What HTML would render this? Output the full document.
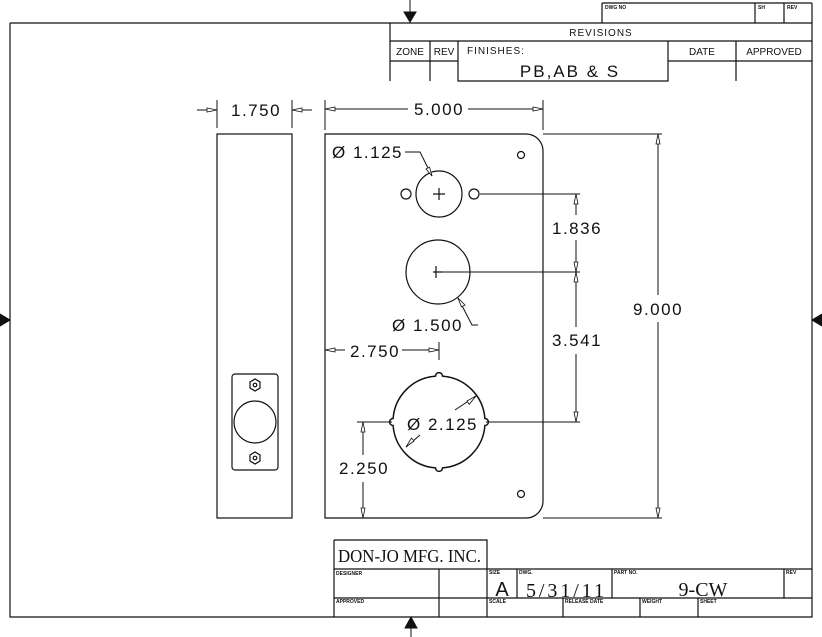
<!DOCTYPE html>
<html><head><style>
html,body{margin:0;padding:0;background:#fff;}
svg{display:block;}
text{font-family:"Liberation Sans",sans-serif;fill:#111;}
.d{font-size:17px;letter-spacing:1.5px;}
.s{font-size:5px;font-weight:bold;}
.ah{fill:#fff;stroke:#111;stroke-width:0.8;}
</style></head><body>
<svg width="822" height="637" viewBox="0 0 822 637" xmlns="http://www.w3.org/2000/svg">
<g stroke="#111" fill="none" stroke-width="1.2">
<path d="M10,23 H812 M10,23 V617 H812 V3 M602,3 H812 M602,3 V23 M755,3 V23 M784,3 V23"/>
<path d="M390,23 V81 M390,41 H812 M390,61 H458 M668,61 H812 M430,41 V81 M458,41 V81 H668 V41 M736,41 V81"/>
<path d="M334,540 H487 V569 M334,540 V617 M334,569 H487 M334,598 H812 M439,569 V617 M487,569 V617 M487,569 H812 M517,569 V598 M612,569 V598 M784,569 V598 M563,598 V617 M640,598 V617 M698,598 V617"/>
<rect x="217" y="134" width="75" height="384"/>
<rect x="232" y="374" width="46" height="96" rx="3"/>
<circle cx="255" cy="422" r="21"/>
<path d="M250,382 l5,-3 5,3 v6 l-5,3 -5,-3 Z"/><circle cx="255" cy="385" r="1.8"/>
<path d="M250,455 l5,-3 5,3 v6 l-5,3 -5,-3 Z"/><circle cx="255" cy="458" r="1.8"/>
<path d="M325,134 H526 A17,17 0 0 1 543,151 V501 A17,17 0 0 1 526,518 H325 Z"/>
<circle cx="439" cy="194" r="23"/><circle cx="406" cy="194" r="5"/><circle cx="474" cy="194" r="5"/>
<circle cx="521" cy="155" r="3.5"/><circle cx="521" cy="494" r="3.5"/>
<path d="M433,194 H445 M439,188 V200"/>
<circle cx="438" cy="272" r="32"/>
<path d="M433,272 H442 M436,266 V278"/>
<path d="M435.5,376.1 A46,46 0 0 0 393.1,418.5 A3.5,3.5 0 0 0 393.1,425.5 A46,46 0 0 0 435.5,467.9 A3.5,3.5 0 0 0 442.5,467.9 A46,46 0 0 0 484.9,425.5 A3.5,3.5 0 0 0 484.9,418.5 A46,46 0 0 0 442.5,376.1 A3.5,3.5 0 0 0 435.5,376.1 Z" stroke-width="1.5"/>
</g>
<g stroke="#111" fill="none" stroke-width="1">
<path d="M217,100 V128 M292,100 V128 M197,110 H217 M312,110 H292"/>
<path d="M325,100 V130 M543,100 V130 M408,109 H325 M468,109 H543"/>
<path d="M543,134 H662 M543,518 H662 M658,295 V134 M658,322 V518"/>
<path d="M480,194 H580 M442,272 H580 M486,422 H580 M576,215 V194 M576,240 V272 M576,327 V272 M576,354 V422"/>
<path d="M439,342 V360 M345,350 H325 M402,350 H439"/>
<path d="M357,422 H392 M363,455 V422 M363,482 V518"/>
<path d="M405,152 H420 L432,176 M478,325 H472 L458,298 M455,410 L476,396 M420,435 L406,447"/>
</g>
<g class="ah">
<path d="M217,110 l-10,-2 v4 Z"/><path d="M292,110 l10,-2 v4 Z"/>
<path d="M325,109 l10,-2 v4 Z"/><path d="M543,109 l-10,-2 v4 Z"/>
<path d="M658,134 l-2,10 h4 Z"/><path d="M658,518 l-2,-10 h4 Z"/>
<path d="M576,194 l-2,10 h4 Z"/><path d="M576,272 l-2,-10 h4 Z"/>
<path d="M576,272 l-2,10 h4 Z"/><path d="M576,422 l-2,-10 h4 Z"/>
<path d="M325,350 l10,-2 v4 Z"/><path d="M439,350 l-10,-2 v4 Z"/>
<path d="M363,422 l-2,10 h4 Z"/><path d="M363,518 l-2,-10 h4 Z"/>
<path d="M432,176 l-6,-7 3.6,-1.8 Z"/>
<path d="M458,298 l7,7 -3.6,1.8 Z"/>
<path d="M476,396 l-9,5 2.2,3.3 Z"/>
<path d="M406,447 l8,-6 -2.5,-3 Z"/>
</g>
<g fill="#111" stroke="#111">
<path d="M410,0 V14"/><path d="M404,12 H416 L410,22 Z"/>
<path d="M411,637 V626"/><path d="M405,628 H417 L411,617 Z"/>
<path d="M0,314 L10,320 L0,326 Z"/><path d="M822,314 L812,320 L822,326 Z"/>
</g>
<text x="601" y="36" font-size="10" text-anchor="middle" letter-spacing="1">REVISIONS</text>
<text x="410" y="55" font-size="10" text-anchor="middle">ZONE</text>
<text x="444" y="55" font-size="10" text-anchor="middle">REV</text>
<text x="467" y="54" font-size="10" letter-spacing="1">FINISHES:</text>
<text x="570" y="77" font-size="17" text-anchor="middle" letter-spacing="2">PB,AB &amp; S</text>
<text x="702" y="55" font-size="10" text-anchor="middle">DATE</text>
<text x="774" y="55" font-size="10" text-anchor="middle">APPROVED</text>
<text x="605" y="9" class="s">DWG NO</text><text x="758" y="9" class="s">SH</text><text x="787" y="9" class="s">REV</text>
<text class="d" x="231" y="116">1.750</text>
<text class="d" x="414" y="115">5.000</text>
<text class="d" x="633" y="315">9.000</text>
<text class="d" x="552" y="234">1.836</text>
<text class="d" x="552" y="346">3.541</text>
<text class="d" x="350" y="357">2.750</text>
<text class="d" x="339" y="474">2.250</text>
<text class="d" x="332" y="158">Ø 1.125</text>
<text class="d" x="392" y="331">Ø 1.500</text>
<text class="d" x="407" y="430">Ø 2.125</text>
<text x="338" y="562" font-size="18" textLength="143" lengthAdjust="spacingAndGlyphs" style="font-family:'Liberation Serif',serif">DON-JO MFG. INC.</text>
<text x="336" y="575" class="s">DESIGNER</text>
<text x="336" y="603" class="s">APPROVED</text>
<text x="489" y="574" class="s">SIZE</text><text x="519" y="574" class="s">DWG.</text>
<text x="614" y="574" class="s">PART NO.</text><text x="786" y="574" class="s">REV</text>
<text x="489" y="603" class="s">SCALE</text><text x="565" y="603" class="s">RELEASE DATE</text>
<text x="642" y="603" class="s">WEIGHT</text><text x="700" y="603" class="s">SHEET</text>
<text x="502" y="596" font-size="20" text-anchor="middle">A</text>
<text x="565" y="597" font-size="20" text-anchor="middle" textLength="78" lengthAdjust="spacing" style="font-family:'Liberation Serif',serif">5/31/11</text>
<text x="703" y="596" font-size="20" text-anchor="middle" style="font-family:'Liberation Serif',serif">9-CW</text>
</svg>
</body></html>
